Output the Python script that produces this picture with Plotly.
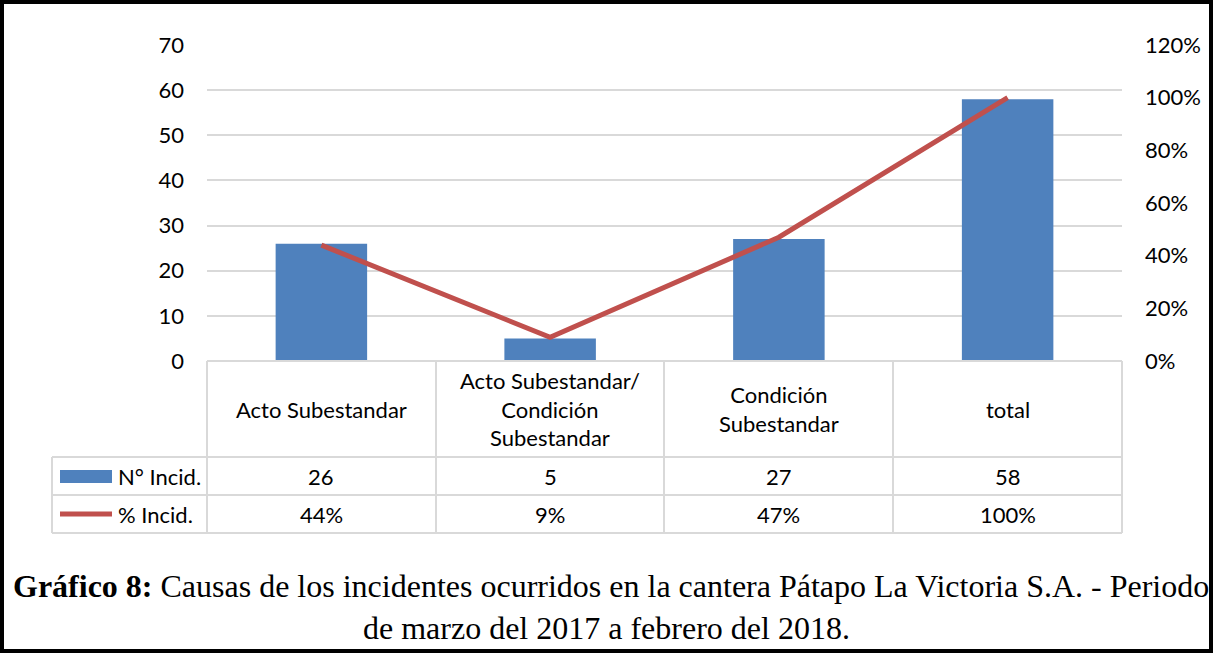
import plotly.graph_objects as go

# data
categories = ["Acto Subestandar", "Acto Subestandar/<br>Condición<br>Subestandar",
              "Condición<br>Subestandar", "total"]
n_incid = [26, 5, 27, 58]
pct_incid = [0.44, 0.09, 0.47, 1.00]
pct_labels = ["44%", "9%", "47%", "100%"]
series_names = ["N° Incid.", "% Incid."]

W, H = 1213, 653
L, R, T, B = 207, 1122, 45, 361  # plot area in pixels

def px(x):
    return (x - L) / (R - L)

def py(y):
    return (B - y) / (B - T)

FONT = "Lato"
FS = 22
GRID = "#d9d9d9"
BLUE = "#4F81BD"
RED = "#C0504D"

xs = list(range(len(categories)))

fig = go.Figure()
fig.add_trace(go.Bar(x=xs, y=n_incid, marker=dict(color=BLUE, line=dict(width=0)),
                     name=series_names[0], width=0.4))
fig.add_trace(go.Scatter(x=xs, y=pct_incid, yaxis="y2", mode="lines",
                         line=dict(color=RED, width=5), name=series_names[1]))

shapes = []
row_y = [B, 457, 495, 533]
col_x = [L, 436, 664, 893, R]
leg_x0 = 52
# horizontal table lines
shapes.append(dict(type="line", xref="paper", yref="paper", x0=px(L), x1=px(R),
                   y0=py(B), y1=py(B), line=dict(color=GRID, width=2)))
for yy in row_y[1:]:
    shapes.append(dict(type="line", xref="paper", yref="paper", x0=px(leg_x0), x1=px(R),
                       y0=py(yy), y1=py(yy), line=dict(color=GRID, width=2)))
# vertical table lines
for xx in col_x:
    shapes.append(dict(type="line", xref="paper", yref="paper", x0=px(xx), x1=px(xx),
                       y0=py(B), y1=py(row_y[3]), line=dict(color=GRID, width=2)))
shapes.append(dict(type="line", xref="paper", yref="paper", x0=px(leg_x0), x1=px(leg_x0),
                   y0=py(row_y[1]), y1=py(row_y[3]), line=dict(color=GRID, width=2)))
# legend keys
shapes.append(dict(type="rect", xref="paper", yref="paper", x0=px(60), x1=px(112),
                   y0=py(470), y1=py(483), fillcolor=BLUE, line=dict(width=0)))
shapes.append(dict(type="line", xref="paper", yref="paper", x0=px(60), x1=px(112),
                   y0=py(514), y1=py(514), line=dict(color=RED, width=5)))
# outer frame
shapes.append(dict(type="rect", xref="paper", yref="paper", x0=px(2), x1=px(W - 2),
                   y0=py(H - 2), y1=py(2), line=dict(color="black", width=4)))

def label(x, y, text, xref="x", xanchor="center", size=FS, family=FONT):
    return dict(x=x, y=y, xref=xref, yref="paper", text=text, showarrow=False,
                xanchor=xanchor, yanchor="middle", align="center",
                font=dict(family=family, size=size, color="black"))

ann = []
for i, c in enumerate(categories):
    ann.append(label(i, py(409), c))
    ann.append(label(i, py(476), str(n_incid[i])))
    ann.append(label(i, py(514), pct_labels[i]))
for name, yy in zip(series_names, [476, 514]):
    ann.append(label(px(116), py(yy), name, xref="paper", xanchor="left"))
# caption
ann.append(label(px(W / 2 + 4), py(586),
                 "<b>Gráfico 8:</b> Causas de los incidentes ocurridos en la cantera "
                 "Pátapo La Victoria S.A. - Periodo",
                 xref="paper", size=32, family="Liberation Serif"))
ann.append(label(px(W / 2), py(628), "de marzo del 2017 a febrero del 2018.",
                 xref="paper", size=32, family="Liberation Serif"))

fig.update_layout(
    width=W, height=H,
    margin=dict(l=L, r=W - R, t=T, b=H - B, pad=0),
    paper_bgcolor="white", plot_bgcolor="white",
    showlegend=False, bargap=0.6,
    font=dict(family=FONT, size=FS, color="black"),
    xaxis=dict(range=[-0.5, len(categories) - 0.5], showticklabels=False, showgrid=False,
               zeroline=False, showline=False, ticks=""),
    yaxis=dict(range=[0, 70], dtick=10, showgrid=True, gridcolor=GRID, gridwidth=2,
               zeroline=False, showline=False, ticks="", ticklabelstandoff=22),
    yaxis2=dict(range=[0, 1.2], dtick=0.2, tickformat=".0%", overlaying="y", side="right",
                showgrid=False, zeroline=False, showline=False, ticks="", ticklabelstandoff=22),
    shapes=shapes, annotations=ann,
)

fig.write_html("out.html", config={"displayModeBar": False},
               post_script="document.body.style.margin='0';")
